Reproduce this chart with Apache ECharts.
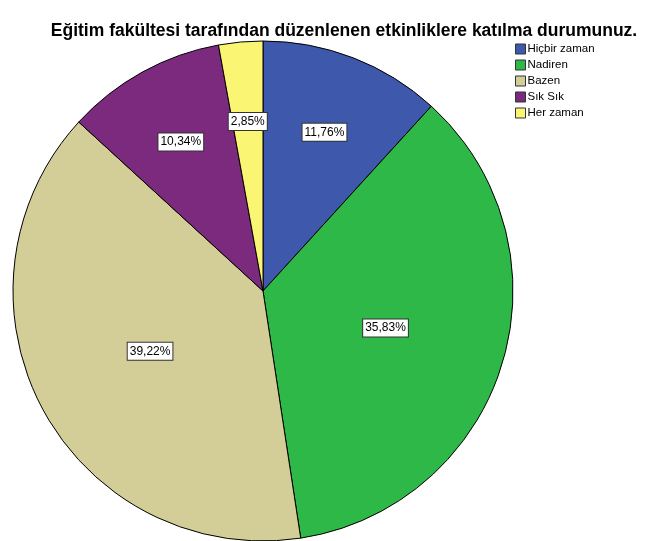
<!DOCTYPE html>
<html><head><meta charset="utf-8">
<script src="https://cdn.jsdelivr.net/npm/echarts@6/dist/echarts.min.js"></script>
<style>html,body{margin:0;padding:0;background:#fff}#c{width:671px;height:541px}</style>
</head><body><div id="c"></div>
<script>
const categories = ['Hiçbir zaman', 'Nadiren', 'Bazen', 'Sık Sık', 'Her zaman'];
const values = [11.76, 35.83, 39.22, 10.34, 2.85];
const colors = ['#3E58AC', '#2EB848', '#D3CD98', '#7C2A7E', '#FAF674'];
const titleText = 'Eğitim fakültesi tarafından düzenlenen etkinliklere katılma durumunuz.';

const cx = 263, cy = 291;
const chart = echarts.init(document.getElementById('c'));
chart.setOption({
  animation: false,
  title: {
    text: titleText, left: 339, top: 17, textAlign: 'center',
    textStyle: { fontFamily: 'Liberation Sans', fontSize: 17.5, fontWeight: 'bold', color: '#000' }
  },
  legend: {
    orient: 'vertical', left: 510, top: 38, itemWidth: 10, itemHeight: 10, itemGap: 4,
    icon: 'rect',
    itemStyle: { borderColor: '#333', borderWidth: 1 },
    textStyle: { fontFamily: 'Liberation Sans', fontSize: 11.5, color: '#000', padding: [0, 0, 0, -3] },
    data: categories
  },
  series: [{
    type: 'pie', center: [cx, cy], radius: 250, startAngle: 90, clockwise: true,
    color: colors,
    itemStyle: { borderColor: '#000', borderWidth: 1 },
    label: {
      position: 'inside', formatter: p => p.value.toFixed(2).replace('.', ',') + '%',
      fontFamily: 'Liberation Sans', fontSize: 12, color: '#000',
      backgroundColor: '#fff', borderColor: '#333', borderWidth: 1, padding: [3, 2, 2, 2]
    },
    labelLayout: function (p) {
      if (values[p.dataIndex] >= 15) return {};
      const r = p.labelRect;
      const lx = r.x + r.width / 2 - cx, ly = r.y + r.height / 2 - cy;
      const k = 0.33;
      return { dx: lx * k, dy: ly * k };
    },
    labelLine: { show: false },
    emphasis: { disabled: true },
    data: categories.map((n, i) => ({ name: n, value: values[i] }))
  }]
});
</script></body></html>
